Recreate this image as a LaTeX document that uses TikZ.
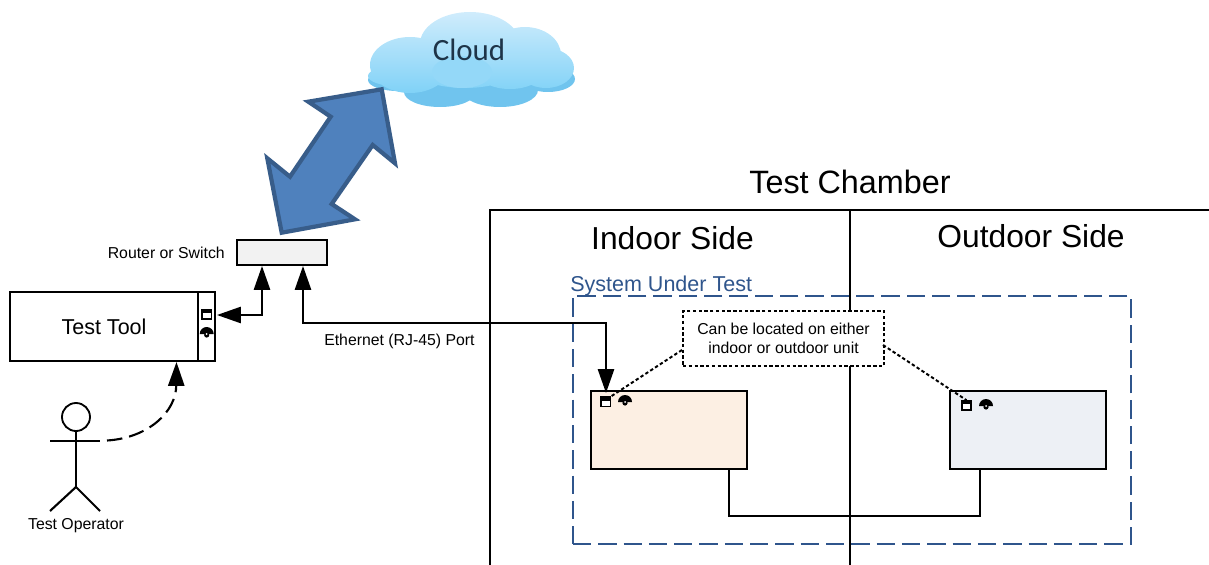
\documentclass[tikz,border=0pt]{standalone}
\usepackage{fontspec}
\setmainfont{Liberation Sans}
\newfontfamily\cloudfont{Carlito}
\usetikzlibrary{arrows.meta,positioning,calc}
\definecolor{sutblue}{RGB}{47,85,140}
\definecolor{arrowfill}{RGB}{79,129,189}
\definecolor{arrowedge}{RGB}{56,93,138}
\definecolor{indoorfill}{RGB}{252,239,227}
\definecolor{outdoorfill}{RGB}{237,240,245}
\definecolor{routerfill}{RGB}{242,242,242}
\definecolor{clouddark}{RGB}{112,196,238}
\definecolor{cloudtop}{RGB}{208,236,252}
\definecolor{cloudlow}{RGB}{128,210,247}
\definecolor{cloudink}{RGB}{30,52,72}
\tikzset{
    line/.style={line width=1.5pt},
    bigtip/.style={-{Triangle[length=17pt,width=11.5pt]}},
    notedash/.style={line width=1.4pt, dash pattern=on 2.4pt off 1.7pt},
    unitbox/.style={draw, line width=1.1pt, inner sep=0, minimum width=3.9cm, minimum height=1.95cm},
    rjport/.style={draw, fill=white, line width=1pt, inner sep=0, minimum width=0.23cm, minimum height=0.23cm,
        path picture={\fill[black] (path picture bounding box.north west) rectangle ($(path picture bounding box.north east)+(0,-3.5)$);}},
    fanport/.pic={
        \fill (-7,0) arc (180:0:7) -- cycle;
        \fill (0,-1) circle (2.6);
        \fill[white] (0,0) circle (1);
    },
    small/.style={font=\fontsize{11.25}{13.5}\selectfont},
    mid/.style={font=\fontsize{15.3}{18}\selectfont},
    big/.style={font=\fontsize{22.6}{26}\selectfont}
}
\begin{document}
\begin{tikzpicture}[x=0.025cm,y=0.025cm]
            \useasboundingbox (0,0) rectangle (1209,-565);

            % Cloud
            \fill[clouddark] (440,-92) ellipse (36 and 15) (500,-90) ellipse (38 and 17)
                (548,-79) ellipse (27 and 13) (398,-80) ellipse (30 and 11);
            \shade[top color=cloudtop, bottom color=cloudlow] (470,-44) ellipse (50 and 32)
                (410,-65) ellipse (40 and 28) (396,-76) ellipse (28 and 10) (525,-55) ellipse (36 and 28)
                (546,-68) ellipse (28 and 20) (465,-70) ellipse (50 and 18) (510,-75) ellipse (30 and 14);
            \fill[cloudtop!25!cloudlow] (462,-72) ellipse (30 and 16);
            \node[font=\cloudfont\fontsize{22}{26}\selectfont, text=cloudink] (cloud) at (469,-50) {Cloud};

            % Link to cloud
            \draw[line width=3pt, fill=arrowfill, draw=arrowedge, line join=miter]
                (381.7,-89.3) -- (395,-163.3) -- (372.7,-145) -- (331.7,-204) -- (355,-219.3)
                -- (281.7,-232.7) -- (267.3,-158.3) -- (290,-176.7) -- (330.7,-116.7) -- (308.3,-101.7) -- cycle;

            % Chamber
            \draw[line] (490,-565) -- (490,-210) -- (1209,-210);
            \draw[line] (850,-210) -- (850,-565);
            \node[font=\fontsize{23}{26}\selectfont] (chamber) at (850,-182) {Test Chamber};
            \node[big] (indoor) at (672.5,-238) {Indoor Side};
            \node[big] (outdoor) at (1031,-236) {Outdoor Side};

            % System under test
            \node[draw=sutblue, line width=1.4pt, dash pattern=on 13pt off 5pt, inner sep=0,
                minimum width=13.95cm, minimum height=6.2cm] (sut) at (852,-420) {};
            \node[mid, text=sutblue, anchor=west, inner sep=0] (sutlabel) at (570,-286) {System Under Test};

            \node[unitbox, fill=indoorfill] (inunit) at (669,-430) {};
            \node[unitbox, fill=outdoorfill] (outunit) at (1028,-430) {};
            \node[rjport] (inrj) at (605.7,-401.7) {};
            \node[rjport] (outrj) at (966.5,-405.5) {};
            \path (625,-402) pic {fanport};
            \path (986,-406) pic {fanport};

            \coordinate (inlink) at (729,-469);
            \coordinate (outlink) at (980,-469);
            \draw[line] (inlink) -- ++(0,-47) -| (outlink);

            % Note
            \node[draw, notedash, fill=white, inner sep=0, align=center, small,
                minimum width=5.025cm, minimum height=1.375cm] (note) at (783.5,-338.5)
                {Can be located on either\\indoor or outdoor unit};
            \coordinate (noteleft) at (682,-350);
            \coordinate (noteright) at (883,-345);
            \draw[notedash] (noteleft) -- (inrj.north east);
            \draw[notedash] (noteright) -- (outrj.north);

            % Router
            \node[draw, line width=1.1pt, fill=routerfill, inner sep=0, minimum width=2.25cm, minimum height=0.625cm] (router) at (282,-252.5) {};
            \node[small, left=0.28cm of router, inner sep=0] (routerlabel) {Router or Switch};

            % Test tool
            \node[draw, line width=1.2pt, inner sep=0, minimum width=4.7cm, minimum height=1.725cm, mid] (tool) at (104,-326.5) {Test Tool};
            \node[draw, line width=1.2pt, inner sep=0, minimum width=0.425cm, minimum height=1.725cm] (toolside) at (206.5,-326.5) {};
            \node[rjport] (toolrj) at (206.7,-314.5) {};
            \path (206.7,-334) pic {fanport};

            % Ethernet
            \coordinate (swa) at (262,-266);
            \coordinate (swb) at (303,-266);
            \coordinate (toolport) at (217,-315);
            \coordinate (ethturn) at (606,-323);
            \coordinate (inport) at (606,-393);
            \draw[line, {Triangle[length=17pt,width=11.5pt]}-{Triangle[length=17pt,width=11.5pt]}] (swa) |- (toolport);
            \draw[line, {Triangle[length=17pt,width=11.5pt]}-{Triangle[length=17pt,width=11.5pt]}] (swb) |- (ethturn) -- (inport);
            \node[small, anchor=west, inner sep=0] (ethlabel) at (324,-341) {Ethernet (RJ-45) Port};

            % Operator
            \node[draw, circle, line width=1.3pt, inner sep=0, minimum size=0.7cm] (ophead) at (76,-417) {};
            \coordinate (ophip) at (76,-487);
            \coordinate (oparm) at (100,-441);
            \coordinate (opstart) at (107,-440.5);
            \coordinate (opend) at (176.5,-362);
            \draw[line] (ophead) -- (ophip);
            \draw[line] (50,-441) -- (oparm);
            \draw[line] (50,-511) -- (ophip) -- (100,-511);
            \node[small, inner sep=0] (oplabel) at (76,-526) {Test Operator};
            \draw[line, bigtip, dash pattern=on 11pt off 5pt] (opstart) .. controls (148,-438) and (176,-412) .. (opend);
\end{tikzpicture}
\end{document}
